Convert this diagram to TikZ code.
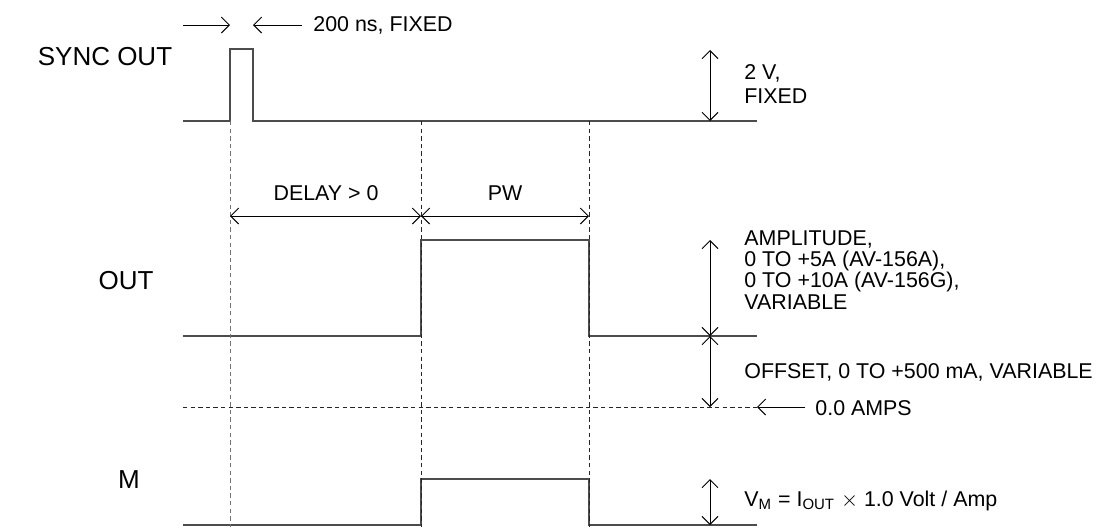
\documentclass[tikz,border=0pt]{standalone}
\usepackage{fontspec}
\setmainfont{Liberation Sans}
\usetikzlibrary{arrows.meta}
\newcommand{\notefont}{\fontsize{10.7}{10.6}\selectfont\lineskiplimit=-8pt\relax}
\tikzset{
  sig/.style={draw=black!70, line width=0.6pt},
  guide/.style={draw=black!85, line width=0.5pt, dash pattern=on 2.2pt off 1.6pt},
  barb/.tip={Straight Barb[length=4pt,width=8pt]},
  dim/.style={line width=0.5pt, barb-barb},
  onearrow/.style={line width=0.5pt, -barb},
  lbl/.style={font=\fontsize{13}{15}\selectfont, inner sep=0pt},
  note/.style={font=\notefont, inner sep=0pt, anchor=west, align=left},
}
\begin{document}
\begin{tikzpicture}[x=0.5pt,y=-0.5pt]
\useasboundingbox (0,0) rectangle (1096,527);
% signal names
\node[lbl] (syncl) at (105,57) {SYNC OUT};
\node[lbl] (outl) at (126,281) {OUT};
\node[lbl] (ml) at (129,480) {M};
% edges of the pulses
\coordinate (t0) at (230,121);
\coordinate (t1) at (253,121);
\coordinate (t2) at (421,121);
\coordinate (t3) at (589,121);
% waveforms
\draw[sig] (183,121) -- (t0) -- (230,49) -- (253,49) -- (t1) -- (757,121);
\draw[sig] (183,336) -- (421,336) -- (421,240) -- (589,240) -- (589,336) -- (757,336);
\draw[sig] (183,525) -- (421,525) -- (421,479) -- (589,479) -- (589,525) -- (757,525);
% guide lines
\draw[guide, draw=black!55] (t0) -- (230,527);
\draw[guide] (t2) -- (421,527);
\draw[guide] (t3) -- (589,527);
\coordinate (zl) at (183,407);
\coordinate (zr) at (757,407);
\draw[guide] (zl) -- (zr);
% width of sync pulse
\coordinate (wa) at (183,25);
\coordinate (wb) at (230,25);
\coordinate (wc) at (253,25);
\coordinate (wd) at (302,25);
\draw[onearrow] (wa) -- (wb);
\draw[onearrow] (wd) -- (wc);
\node[note] (wtxt) at (313,25) {200 ns, FIXED};
% delay and pw
\coordinate (da) at (230,216);
\coordinate (db) at (421,216);
\coordinate (dc) at (589,216);
\draw[dim] (da) -- (db);
\draw[dim] (db) -- (dc);
\node[font=\notefont, inner sep=0pt] (dtxt) at (326,193) {DELAY > 0};
\node[font=\notefont, inner sep=0pt] (pwtxt) at (505,193) {PW};
% amplitudes
\coordinate (s0) at (710,50);
\coordinate (s1) at (710,121);
\draw[dim] (s0) -- (s1);
\node[note] (stxt) at (744,84) {2 V,\\[1pt]FIXED};
\coordinate (a0) at (710,240);
\coordinate (a1) at (710,336);
\coordinate (a2) at (710,407);
\draw[dim] (a0) -- (a1);
\draw[dim] (a1) -- (a2);
\node[note] (atxt) at (744,270) {AMPLITUDE,\\0 TO +5A (AV-156A),\\0 TO +10A (AV-156G),\\VARIABLE};
\node[note] (otxt) at (744,372) {OFFSET, 0 TO +500 mA, VARIABLE};
\coordinate (za) at (805,407);
\draw[onearrow] (za) -- (zr);
\node[note] (ztxt) at (815,408) {0.0 AMPS};
\coordinate (m0) at (710,479);
\coordinate (m1) at (710,525);
\draw[dim] (m0) -- (m1);
\node[note] (mtxt) at (744,501) {V\textsubscript{M} = I\textsubscript{OUT} $\times$ 1.0 Volt / Amp};
\end{tikzpicture}
\end{document}
